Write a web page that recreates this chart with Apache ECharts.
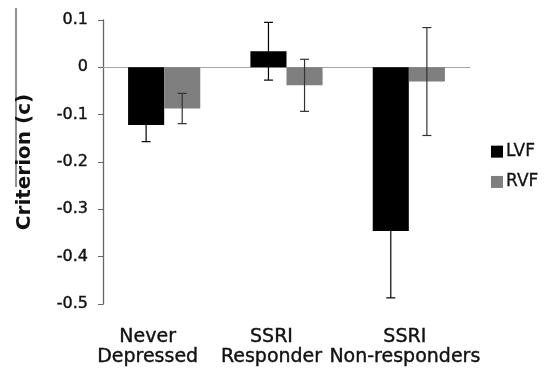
<!DOCTYPE html>
<html>
<head>
<meta charset="utf-8">
<script src="https://cdn.jsdelivr.net/npm/echarts@6/dist/echarts.min.js"></script>
<style>
html,body{margin:0;padding:0;background:#fff;}
#c{width:549px;height:368px;}
</style>
</head>
<body>
<div id="c"></div>
<script>
var categories = ['Never\nDepressed', 'SSRI\nResponder', 'SSRI\nNon-responders'];
var lvfMean = [-0.122, 0.034, -0.346];
var rvfMean = [-0.087, -0.038, -0.030];
var lvfErr = [0.035, 0.061, 0.141];
var rvfErr = [0.032, 0.055, 0.114];
var yTicks = [-0.5, -0.4, -0.3, -0.2, -0.1, 0, 0.1];

var FONT = 'DejaVu Sans';
// label left-shift (layout only), expressed as right padding of each label
var labelPadRight = [33, 30, 8];

var chart = echarts.init(document.getElementById('c'), null, {renderer: 'canvas'});

function errorItem(offsetSign, color) {
  return function (params, api) {
    var idx = api.value(0);
    var mean = api.value(1);
    var err = api.value(2);
    var band = api.size([1, 0])[0];
    var barW = band * 0.59 / 2;
    var c = api.coord([idx, mean]);
    var x = c[0] + offsetSign * barW / 2;
    var top = api.coord([idx, mean + err])[1];
    var bot = api.coord([idx, mean - err])[1];
    var cap = 4.5;
    var style = {stroke: color, lineWidth: 1.2};
    return {
      type: 'group',
      children: [
        {type: 'line', shape: {x1: x, y1: top, x2: x, y2: bot}, style: style},
        {type: 'line', shape: {x1: x - cap, y1: top, x2: x + cap, y2: top}, style: style},
        {type: 'line', shape: {x1: x - cap, y1: bot, x2: x + cap, y2: bot}, style: style}
      ]
    };
  };
}

function errData(means, errs) {
  return means.map(function (m, i) { return [i, m, errs[i]]; });
}

var labelBase = {fontFamily: FONT, fontSize: 19, color: '#111', lineHeight: 20,
  textBorderColor: '#111', textBorderWidth: 0.4};
var rich = {};
labelPadRight.forEach(function (p, i) {
  rich['c' + i] = Object.assign({padding: [0, p, 0, 0]}, labelBase);
});

chart.setOption({
  animation: false,
  backgroundColor: '#fff',
  grid: {left: 103, right: 79, top: 20, bottom: 64},
  legend: {
    data: ['LVF', 'RVF'],
    orient: 'vertical',
    left: 491,
    top: 143,
    padding: 0,
    icon: 'rect',
    itemWidth: 12,
    itemHeight: 12,
    itemGap: 13,
    textStyle: {fontFamily: FONT, fontSize: 17, color: '#111', padding: [0, 0, 0, -2],
      textBorderColor: '#111', textBorderWidth: 0.3}
  },
  xAxis: [{
    type: 'category',
    data: categories,
    position: 'bottom',
    axisLine: {show: false, onZero: false},
    axisTick: {show: false},
    axisLabel: Object.assign({}, labelBase, {
      margin: 23, interval: 0, rich: rich,
      formatter: function (v, i) {
        return v.split('\n').map(function (s) { return '{c' + i + '|' + s + '}'; }).join('\n');
      }
    })
  }, {
    type: 'category',
    data: categories,
    axisLine: {show: true, onZero: true, lineStyle: {color: '#a6a6a6', width: 1}},
    axisTick: {show: false},
    axisLabel: {show: false}
  }],
  yAxis: {
    type: 'value',
    min: yTicks[0],
    max: yTicks[yTicks.length - 1],
    interval: 0.1,
    name: 'Criterion (c)',
    nameLocation: 'middle',
    nameRotate: 90,
    nameGap: 68,
    nameTextStyle: {fontFamily: FONT, fontSize: 20, fontWeight: 'bold', color: '#111'},
    axisLine: {show: true, lineStyle: {color: '#666', width: 1.3}},
    axisTick: {show: true, inside: false, length: 5, lineStyle: {color: '#666'}},
    splitLine: {show: false},
    axisLabel: {
      fontFamily: FONT, fontSize: 16, color: '#111', margin: 15,
      textBorderColor: '#111', textBorderWidth: 0.4,
      formatter: function (v) {
        var r = Math.round(v * 10) / 10;
        return r === 0 ? '0' : String(r);
      }
    }
  },
  graphic: [{
    type: 'line',
    shape: {x1: 16, y1: 8, x2: 16, y2: 187},
    style: {stroke: '#222', lineWidth: 1}
  }],
  series: [{
    name: 'LVF',
    type: 'bar',
    data: lvfMean,
    barGap: '0%',
    barCategoryGap: '41%',
    itemStyle: {color: '#000'}
  }, {
    name: 'RVF',
    type: 'bar',
    data: rvfMean,
    itemStyle: {color: '#7f7f7f'}
  }, {
    name: 'LVF err',
    type: 'custom',
    renderItem: errorItem(-1, '#000'),
    data: errData(lvfMean, lvfErr),
    encode: {x: 0, y: 1},
    z: 10
  }, {
    name: 'RVF err',
    type: 'custom',
    renderItem: errorItem(1, '#333'),
    data: errData(rvfMean, rvfErr),
    encode: {x: 0, y: 1},
    z: 10
  }]
});
</script>
</body>
</html>
